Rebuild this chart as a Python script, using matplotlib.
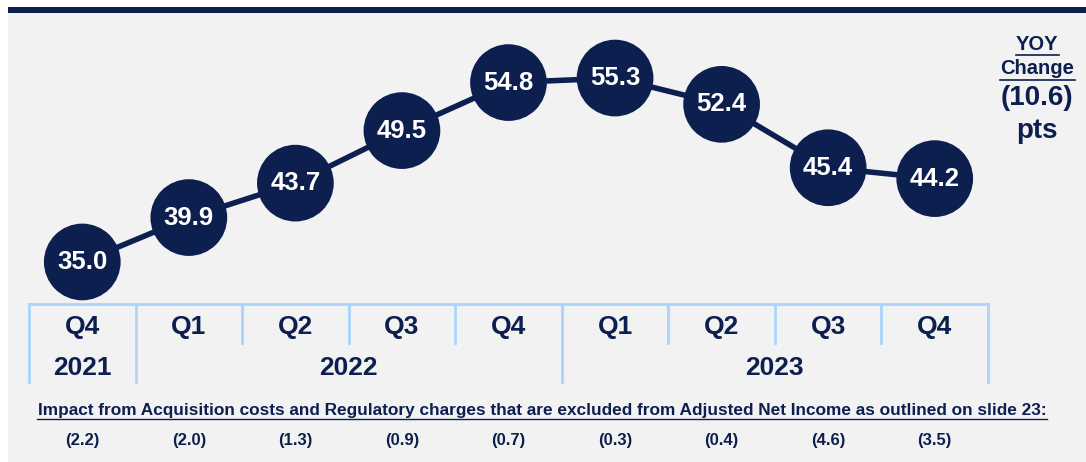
import matplotlib.pyplot as plt
from matplotlib.patches import Rectangle

quarters = ["Q4", "Q1", "Q2", "Q3", "Q4", "Q1", "Q2", "Q3", "Q4"]
years = ["2021", "2022", "2023"]
year_spans = [(0, 0), (1, 4), (5, 8)]
values = [35.0, 39.9, 43.7, 49.5, 54.8, 55.3, 52.4, 45.4, 44.2]
impacts = ["(2.2)", "(2.0)", "(1.3)", "(0.9)", "(0.7)", "(0.3)", "(0.4)", "(4.6)", "(3.5)"]
yoy_change = "(10.6)"
footnote = ("Impact from Acquisition costs and Regulatory charges that are "
            "excluded from Adjusted Net Income as outlined on slide 23:")

navy = "#0c1f4f"
light_blue = "#aad4fb"
bg = "#f2f2f2"

plt.rcParams['font.family'] = ['Liberation Sans', 'DejaVu Sans']

W, H = 1086, 462
fig = plt.figure(figsize=(W / 100, H / 100), dpi=100)
fig.patch.set_facecolor("white")

# background panel and top navy bar
fig.patches.append(Rectangle((8 / W, 0), 1, (H - 13) / H, transform=fig.transFigure,
                             facecolor=bg, edgecolor="none", zorder=-2))
fig.patches.append(Rectangle((8 / W, (H - 13) / H), 1, 6 / H, transform=fig.transFigure,
                             facecolor=navy, edgecolor="none", zorder=-2))

x = list(range(len(values)))

# main line chart
ax = fig.add_axes([29 / W, (H - 304) / H, 959 / W, (304 - 13) / H])
ax.set_xlim(-0.5, 8.5)
ax.set_ylim(30.36, 62.48)
ax.axis("off")
ax.plot(x, values, color=navy, lw=4, zorder=1)
ax.scatter(x, values, s=3050, color=navy, edgecolors="none", zorder=2, clip_on=False)
for xi, v in zip(x, values):
    ax.text(xi, v, f"{v:.1f}", color="white", fontsize=18.5, fontweight="bold",
            ha="center", va="center", zorder=3)

# quarter / year table
tab = fig.add_axes([29 / W, 0, 959 / W, (H - 304) / H])
tab.set_xlim(-0.5, 8.5)
tab.set_ylim(H, 304)
tab.axis("off")
tab.plot([-0.5, 8.5], [304, 304], color=light_blue, lw=2, clip_on=False)
for i in range(len(quarters) + 1):
    b = i - 0.5
    full = any(b == s - 0.5 for s, e in year_spans) or b == 8.5
    tab.plot([b, b], [304, 382 if full else 343], color=light_blue, lw=2, clip_on=False)
for xi, q in zip(x, quarters):
    tab.text(xi, 327, q, color=navy, fontsize=19, fontweight="bold", ha="center", va="center")
for yr, (s, e) in zip(years, year_spans):
    tab.text((s + e) / 2, 368, yr, color=navy, fontsize=19, fontweight="bold",
             ha="center", va="center")
for xi, imp in zip(x, impacts):
    tab.text(xi, 440, imp, color=navy, fontsize=12, fontweight="bold",
             ha="center", va="center")

fig.text(542 / W, 1 - 410 / H, footnote, color=navy, fontsize=12.4, fontweight="bold",
         ha="center", va="center")
fig.lines.append(plt.Line2D([37 / W, 1047 / W], [1 - 419 / H] * 2, transform=fig.transFigure,
                            color=navy, lw=1))

# YOY change note
fig.text(1037 / W, 1 - 44 / H, "YOY", color=navy, fontsize=14.5, fontweight="bold",
         ha="center", va="center")
fig.lines.append(plt.Line2D([1016 / W, 1059 / W], [1 - 55 / H] * 2, transform=fig.transFigure,
                            color=navy, lw=1.2))
fig.text(1037 / W, 1 - 68 / H, "Change", color=navy, fontsize=14.5, fontweight="bold",
         ha="center", va="center")
fig.lines.append(plt.Line2D([1000 / W, 1075 / W], [1 - 80 / H] * 2, transform=fig.transFigure,
                            color=navy, lw=1.2))
fig.text(1037 / W, 1 - 98 / H, yoy_change, color=navy, fontsize=20, fontweight="bold",
         ha="center", va="center")
fig.text(1037 / W, 1 - 131 / H, "pts", color=navy, fontsize=20, fontweight="bold",
         ha="center", va="center")

fig.savefig("out.png", dpi=100, facecolor=fig.get_facecolor())
